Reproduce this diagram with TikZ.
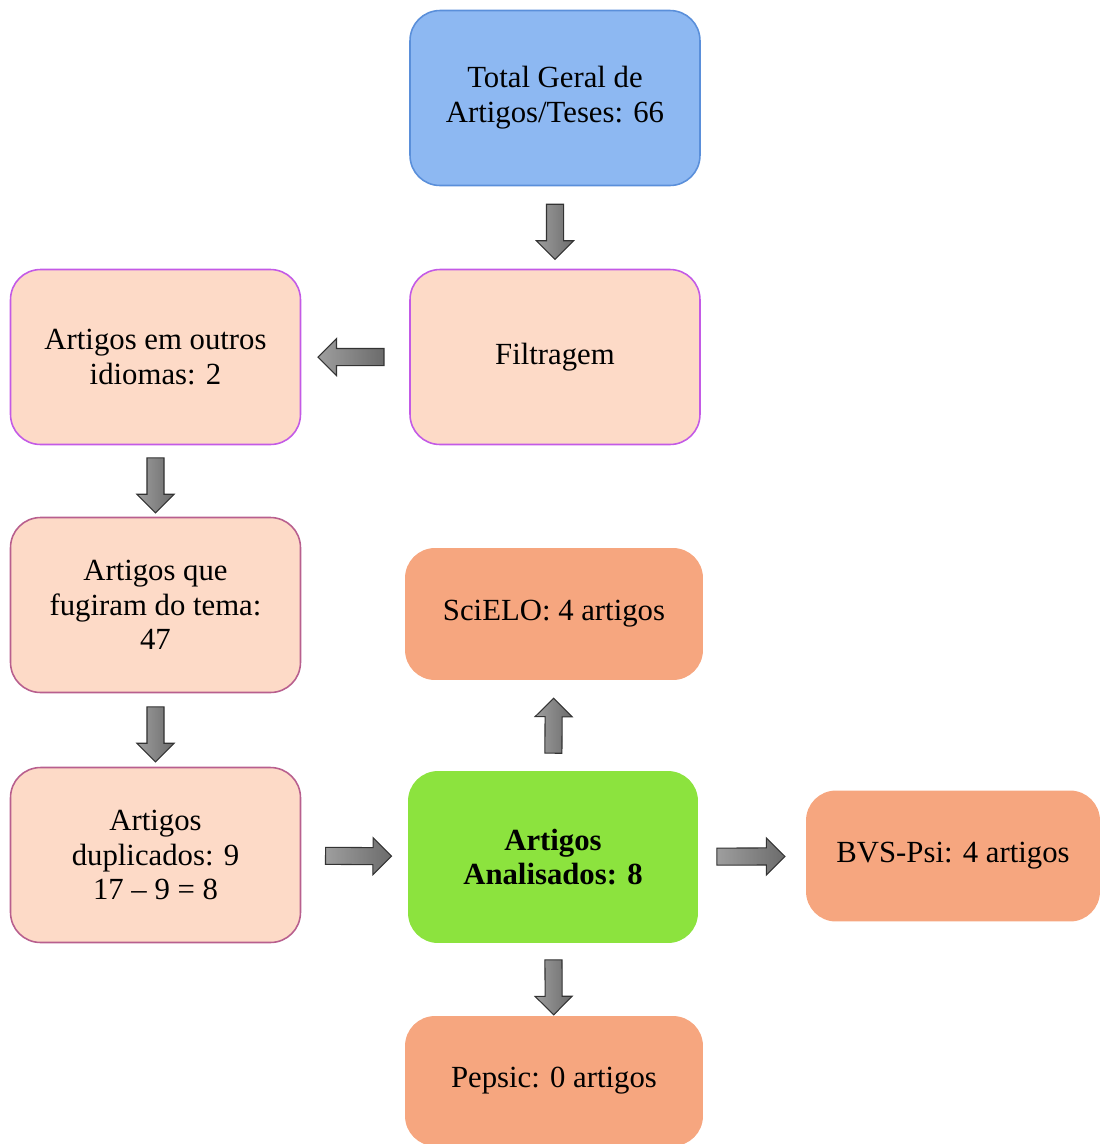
\documentclass[tikz,border=0pt]{standalone}
\usepackage{fontspec}
\setmainfont{Liberation Serif}
\usetikzlibrary{shapes.arrows,positioning}

\definecolor{azulbox}{HTML}{8DB8F2}
\definecolor{azulborda}{HTML}{5A8FDA}
\definecolor{pessego}{HTML}{FDDAC7}
\definecolor{violeta}{HTML}{C35AE6}
\definecolor{malva}{HTML}{B85F8E}
\definecolor{salmao}{HTML}{F6A67F}
\definecolor{verde}{HTML}{8CE33E}

\tikzset{
    caixa/.style={rectangle, rounded corners=0.6cm, align=center, line width=0.9pt, font=\fontsize{17.5}{19.8}\selectfont, minimum width=5.8cm, minimum height=3.5cm, inner sep=0pt},
    seta/.style={single arrow, draw=black!80, line width=0.6pt, top color=black!38, bottom color=black!58, shading angle=90, minimum height=#1, minimum width=0pt, inner xsep=0pt, inner ysep=0.16cm, single arrow head extend=0.2cm, sloped, allow upside down}
}

\begin{document}
\begin{tikzpicture}[x=0.02cm, y=-0.02cm]
        \useasboundingbox (0,0) rectangle (1100,1144);
        % caixas
        \node[caixa, fill=azulbox, draw=azulborda] (total) at (555,98) {Total Geral de\\Artigos/Teses: 66};
        \node[caixa, fill=pessego, draw=violeta] (filtro) at (555,357) {Filtragem};
        \node[caixa, fill=pessego, draw=violeta] (idiomas) at (155.5,357) {Artigos em outros\\idiomas: 2};
        \node[caixa, fill=pessego, draw=malva] (tema) at (155.5,605) {Artigos que\\fugiram do tema:\\47};
        \node[caixa, fill=pessego, draw=malva] (dupl) at (155.5,855) {Artigos\\duplicados: 9\\17 -- 9 = 8};
        \node[caixa, fill=verde, minimum height=3.44cm] (anal) at (553,857) {\bfseries Artigos\\\bfseries Analisados: 8};
        \node[caixa, fill=salmao, minimum width=5.96cm, minimum height=2.64cm] (scielo) at (554,614) {SciELO: 4 artigos};
        \node[caixa, fill=salmao, minimum width=5.88cm, minimum height=2.62cm] (bvs) at (953,856) {BVS-Psi: 4 artigos};
        \node[caixa, fill=salmao, minimum width=5.96cm, minimum height=2.6cm] (pepsic) at (554,1081) {Pepsic: 0 artigos};
        % setas
        \path (total) -- node[seta=1.1cm] (s1) {} (filtro);
        \path (filtro) -- node[seta=1.32cm] (s2) {} (idiomas);
        \path (idiomas) -- node[seta=1.1cm] (s3) {} (tema);
        \path (tema) -- node[seta=1.1cm] (s4) {} (dupl);
        \path (dupl) -- node[seta=1.32cm] (s5) {} (anal);
        \path (anal) -- node[seta=1.1cm, pos=0.45] (s6) {} (scielo);
        \path (anal) -- node[seta=1.36cm, pos=0.45] (s7) {} (bvs);
        \path (anal) -- node[seta=1.1cm, pos=0.55] (s8) {} (pepsic);
    \end{tikzpicture}
\end{document}
